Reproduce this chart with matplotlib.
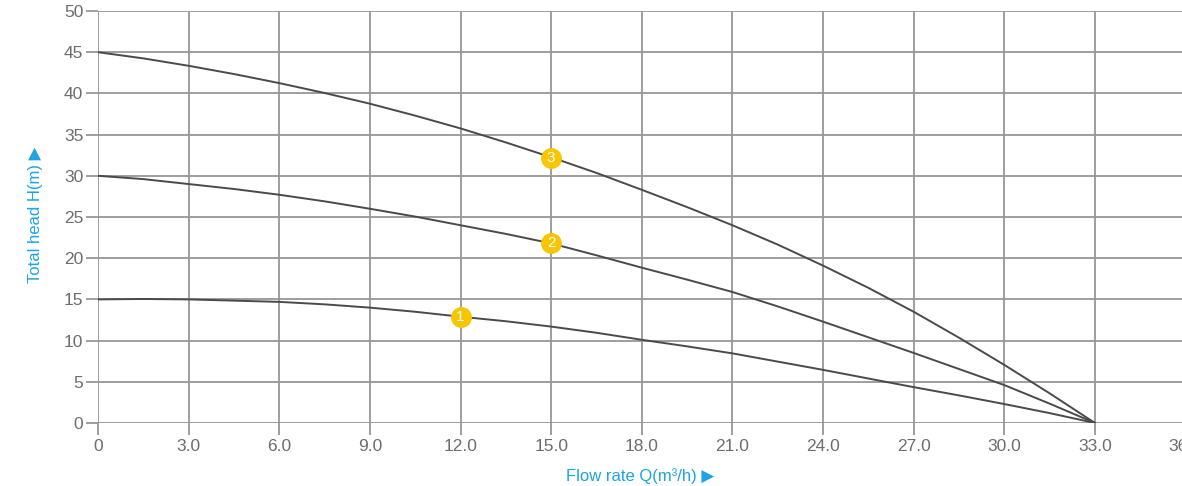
"""Pump performance curves: total head vs flow rate."""

import matplotlib
matplotlib.use('Agg')
import matplotlib.pyplot as plt

plt.rcParams['font.family'] = ['Liberation Sans', 'DejaVu Sans']

# Flow rate points (m3/h) where the curves were read
flow = [0, 1.5, 3, 4.5, 6, 7.5, 9, 10.5, 12, 13.5, 15, 16.5, 18, 19.5,
        21, 22.5, 24, 25.5, 27, 28.5, 30, 31.5, 33]

# Total head (m) for each model
head_1 = [15.0, 15.05, 15.0, 14.85, 14.7, 14.4, 14.0, 13.5, 12.9, 12.35, 11.7,
          10.95, 10.1, 9.3, 8.45, 7.45, 6.45, 5.4, 4.35, 3.35, 2.3, 1.2, 0.0]
head_2 = [30.0, 29.6, 29.0, 28.4, 27.7, 26.9, 26.0, 25.05, 24.0, 22.95, 21.8,
          20.35, 18.85, 17.4, 15.9, 14.15, 12.3, 10.4, 8.5, 6.55, 4.6, 2.35, 0.0]
head_3 = [45.0, 44.25, 43.35, 42.35, 41.25, 40.05, 38.75, 37.3, 35.75, 34.05,
          32.25, 30.35, 28.3, 26.2, 24.0, 21.65, 19.1, 16.4, 13.5, 10.35, 7.05,
          3.6, 0.0]

# Numbered markers on each curve
marker_x = [12, 15, 15]
marker_y = [12.9, 21.8, 32.2]
marker_labels = ['1', '2', '3']

x_ticks = [0, 3, 6, 9, 12, 15, 18, 21, 24, 27, 30, 33, 36]
y_ticks = [0, 5, 10, 15, 20, 25, 30, 35, 40, 45, 50]

GRID = '#969696'
CURVE = '#4a4a4a'
TEXT = '#6d6d6d'
BLUE = '#1ea3e3'
YELLOW = '#f7c600'

fig = plt.figure(figsize=(11.82, 4.86), dpi=100)
ax = fig.add_axes([98 / 1182, 63 / 486, 1087.6 / 1182, 412 / 486])

for heads in (head_1, head_2, head_3):
    ax.plot(flow, heads, color=CURVE, linewidth=1.4, zorder=3)

for mx, my, lab in zip(marker_x, marker_y, marker_labels):
    ax.plot(mx, my, 'o', color=YELLOW, markersize=14, zorder=4)
    ax.text(mx, my, lab, color='white', fontsize=11, ha='center',
            va='center', zorder=5)

ax.set_xlim(0, 36)
ax.set_ylim(0, 50)
ax.set_xticks(x_ticks)
ax.set_xticklabels(['0'] + [f'{v:.1f}' for v in x_ticks[1:]])
ax.set_yticks(y_ticks)
ax.set_yticklabels([str(v) for v in y_ticks])

ax.grid(True, color=GRID, linewidth=1.3)
ax.set_axisbelow(True)
for spine in ax.spines.values():
    spine.set_visible(False)
ax.tick_params(axis='both', length=8.6, width=1.3, color=GRID,
               labelcolor=TEXT, labelsize=12.5)
ax.tick_params(axis='x', pad=3)
ax.tick_params(axis='y', pad=2)

fig.text(640 / 1182, 1 - 476 / 486, 'Flow rate Q(m³/h) ▶', color=BLUE,
         fontsize=12, ha='center', va='center')
fig.text(36 / 1182, 1 - 215 / 486, 'Total head H(m) ▶', color=BLUE,
         fontsize=12, ha='center', va='center', rotation=90)

fig.savefig('out.png', dpi=100, facecolor='white')
